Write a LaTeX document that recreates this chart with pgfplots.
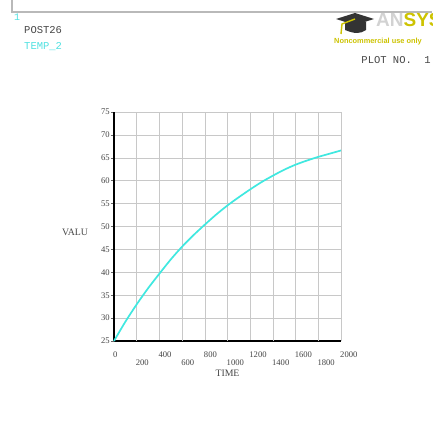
\documentclass[border=0pt]{standalone}
\usepackage{fontspec}
\setmainfont{Liberation Serif}
\setmonofont{Liberation Mono}
\newfontfamily\sansb{Liberation Sans}
\usepackage{pgfplots}
\pgfplotsset{compat=1.18}
\definecolor{curvecyan}{RGB}{64,232,224}
\definecolor{labelcyan}{RGB}{80,225,225}
\definecolor{txtgray}{RGB}{70,70,70}
\definecolor{gridgray}{RGB}{200,200,200}
\definecolor{ansysyellow}{RGB}{205,195,0}
\begin{document}
\begin{tikzpicture}[x=1pt,y=1pt]
\useasboundingbox (0,0) rectangle (432,437);
\fill[white] (0,0) rectangle (432,437);
% frame
\draw[gray!55, line width=1.3pt] (12,437) -- (12,425) -- (432,425);
% header texts
\node[anchor=west, text=labelcyan, font=\ttfamily\fontsize{10}{10}\selectfont, inner sep=0] at (14,420) {1};
\node[anchor=west, text=txtgray, font=\ttfamily\fontsize{10.5}{10.5}\selectfont, inner sep=0] at (24,407) {POST26};
\node[anchor=west, text=labelcyan, font=\ttfamily\fontsize{10.5}{10.5}\selectfont, inner sep=0] at (24,390) {TEMP\_2};
\node[anchor=east, text=txtgray, font=\ttfamily\fontsize{10.5}{10.5}\selectfont, inner sep=0] at (431,377) {PLOT NO.\ \ 1};
% logo: cap
\fill[black!80] (336,418) -- (355,424) -- (374,418) -- (355,412) -- cycle;
\fill[black!80] (345,415) -- (345,407) .. controls (355,403) and (360,403) .. (366,407) -- (366,415) -- cycle;
\draw[ansysyellow, line width=1.4pt] (355,418) -- (342,413) -- (341,403);
\node[anchor=west, inner sep=0, font=\sansb\bfseries\fontsize{19}{19}\selectfont] at (376,417) {\textcolor{gray!35}{AN}\textcolor{ansysyellow}{SYS}};
\node[anchor=west, inner sep=0, text=ansysyellow, font=\sansb\bfseries\fontsize{7.4}{7.4}\selectfont] at (334,395) {Noncommercial use only};
\begin{axis}[
  at={(114pt,96pt)}, anchor=south west,
  scale only axis, width=227pt, height=229pt,
  xmin=0, xmax=2000, ymin=25, ymax=75,
  axis x line*=bottom, axis y line*=left,
  axis line style={black, line width=1.3pt},
  xtick={0,400,800,1200,1600,2000},
  extra x ticks={200,600,1000,1400,1800},
  extra x tick style={grid=major, tick label style={yshift=-8pt}},
  ytick={25,30,...,75},
  grid=major,
  major grid style={gridgray, line width=0.6pt},
  tick style={black!60, line width=0.5pt},
  x tick style={draw=none},
  major tick length=3pt,
  tick align=outside,
  x tick label style={anchor=north west, inner sep=0pt, yshift=-8pt, xshift=-1pt},
  y tick label style={anchor=east, inner sep=0pt, xshift=-1pt},
  ticklabel style={text=txtgray, font=\fontsize{8.6}{8.6}\selectfont},
  /pgf/number format/assume math mode=true,
  /pgf/number format/1000 sep={},
  xlabel={TIME}, ylabel={VALU},
  label style={text=txtgray, font=\fontsize{9.8}{9.8}\selectfont},
  xlabel style={at={(axis description cs:0.5,0)}, anchor=center, yshift=-32pt},
  ylabel style={rotate=-90, at={(axis description cs:0,0.5)}, anchor=center, xshift=-39pt, yshift=-6pt},
  clip=false,
]
\addplot[curvecyan, line width=1.7pt, smooth] coordinates {
(0,25) (100,29.2) (200,33.0) (300,36.5) (400,39.7) (500,42.8) (600,45.6)
(700,48.1) (800,50.4) (900,52.6) (1000,54.6) (1100,56.4) (1200,58.1)
(1300,59.7) (1400,61.1) (1500,62.4) (1600,63.5) (1700,64.4) (1800,65.2)
(1900,65.9) (2000,66.6)
};
\end{axis}
\end{tikzpicture}
\end{document}
